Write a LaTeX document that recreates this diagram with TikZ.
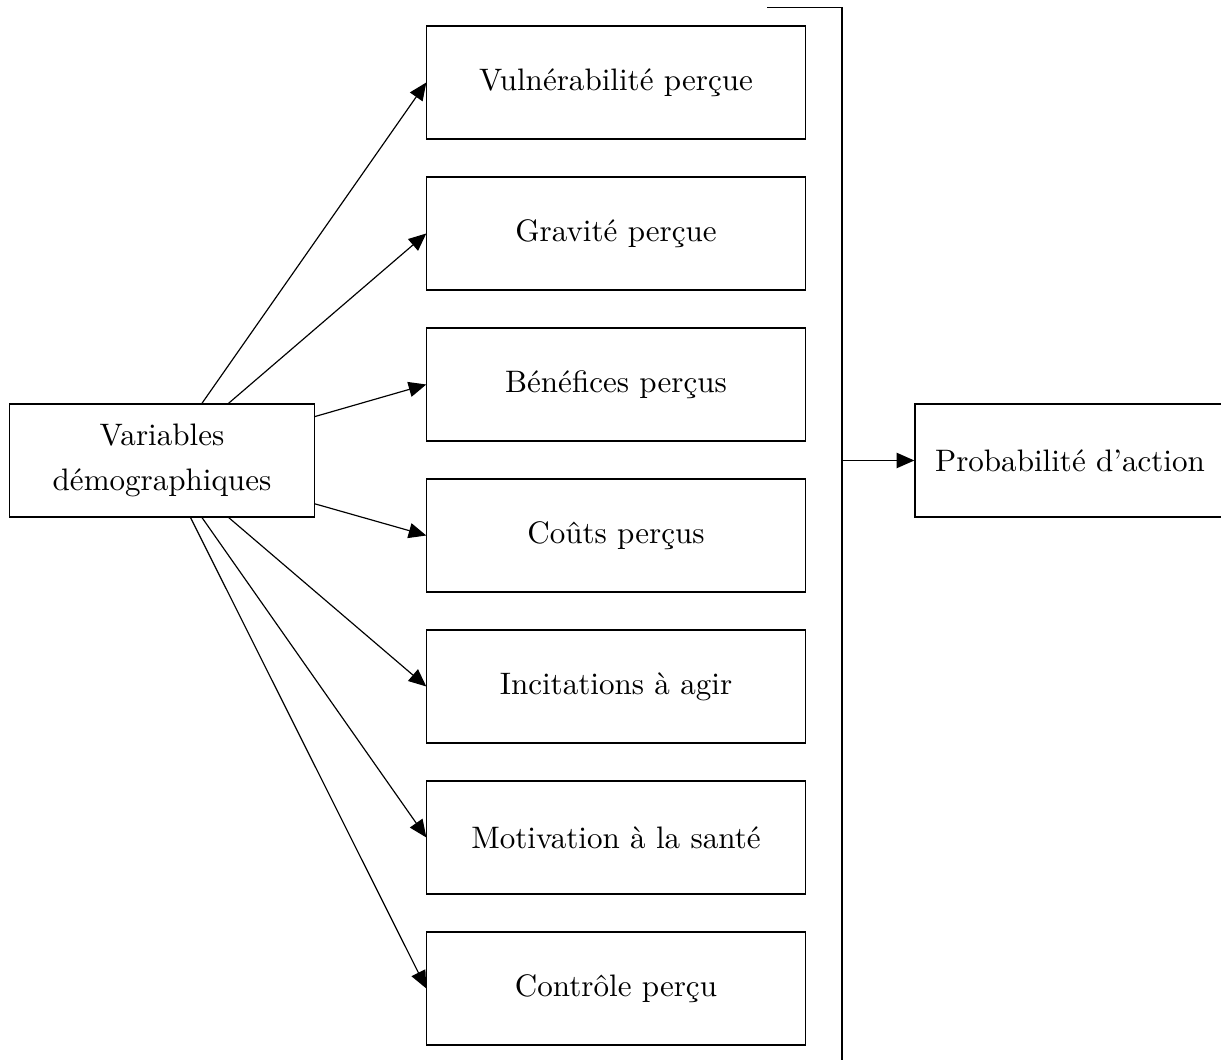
\documentclass[tikz,border=0pt]{standalone}
\usepackage{fontspec}
\usetikzlibrary{arrows.meta}

\tikzset{
    factor/.style={draw, minimum width=4.536cm, minimum height=1.356cm, inner sep=0pt},
    source/.style={draw, align=center, minimum width=3.648cm, minimum height=1.356cm, inner sep=0pt},
    outcome/.style={draw, minimum width=3.72cm, minimum height=1.356cm, inner sep=0pt},
    link/.style={-{Triangle[length=6pt, width=5.2pt]}}
}

\begin{document}
\begin{tikzpicture}[x=0.012cm, y=-0.012cm, font=\fontsize{10.6pt}{15.4pt}\selectfont]

    % Frame
    \path[use as bounding box, clip] (0, 0) rectangle (1221, 1060);

    % Source
    \node[source] (demo) at (162, 460.5) {Variables\\démographiques};

    % Perceptions
    \node[factor] (vuln)  at (616, 82.5)  {Vulnérabilité perçue};
    \node[factor] (grav)  at (616, 233.5) {Gravité perçue};
    \node[factor] (bene)  at (616, 384.5) {Bénéfices perçus};
    \node[factor] (cout)  at (616, 535.5) {Coûts perçus};
    \node[factor] (incit) at (616, 686.5) {Incitations à agir};
    \node[factor] (motiv) at (616, 837.5) {Motivation à la santé};
    \node[factor] (contr) at (616, 988.5) {Contrôle perçu};

    % Outcome
    \node[outcome] (proba) at (1070, 460.5) {Probabilité d'action};

    % Links
    \draw[link] (demo) -- (vuln.west);
    \draw[link] (demo) -- (grav.west);
    \draw[link] (demo) -- (bene.west);
    \draw[link] (demo) -- (cout.west);
    \draw[link] (demo) -- (incit.west);
    \draw[link] (demo) -- (motiv.west);
    \draw[link] (demo) -- (contr.west);

    % Bracket
    \coordinate (bartop) at (842, 7.5);
    \coordinate (barbot) at (842, 1070);
    \coordinate (barend) at (767, 7.5);
    \coordinate (barmid) at (842, 460.5);
    \draw (barend) -- (bartop) -- (barbot);
    \draw[link] (barmid) -- (proba.west);

\end{tikzpicture}
\end{document}
